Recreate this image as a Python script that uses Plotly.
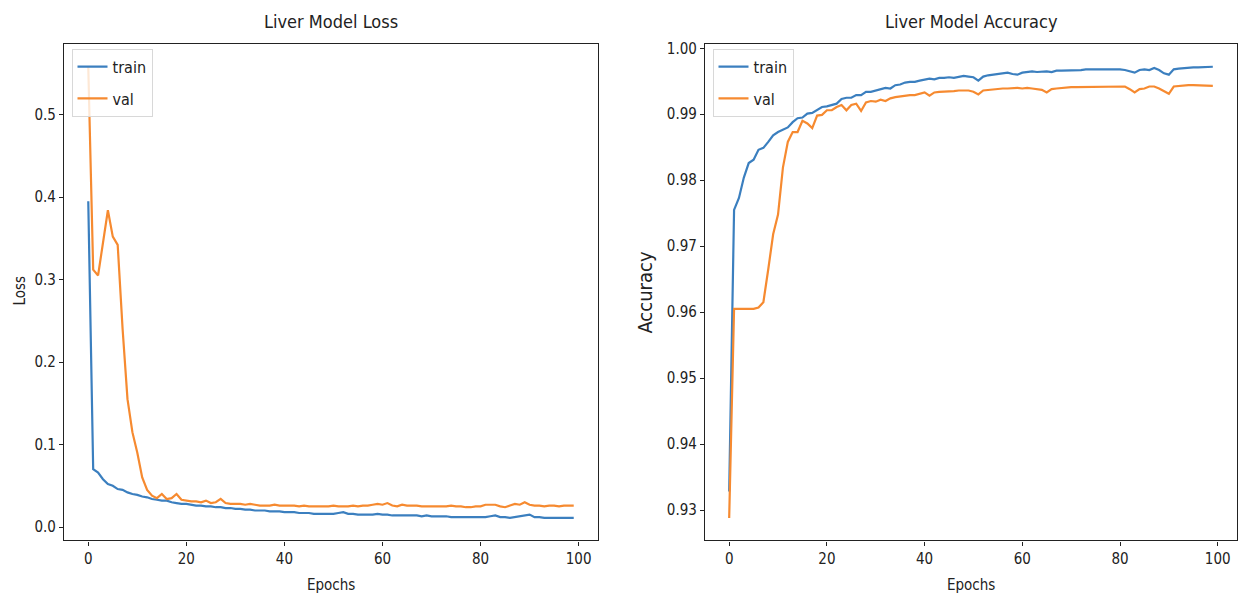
import plotly.graph_objects as go

epochs = list(range(100))

loss_train = [0.395, 0.070, 0.066, 0.058, 0.052, 0.050, 0.046, 0.045, 0.042, 0.040,
              0.039, 0.037, 0.036, 0.034, 0.033, 0.032, 0.032, 0.030, 0.029, 0.028,
              0.028, 0.027, 0.026, 0.026, 0.025, 0.025, 0.024, 0.024, 0.023, 0.023,
              0.022, 0.022, 0.021, 0.021, 0.020, 0.020, 0.020, 0.019, 0.019, 0.019,
              0.018, 0.018, 0.018, 0.017, 0.017, 0.017, 0.016, 0.016, 0.016, 0.016,
              0.016, 0.017, 0.018, 0.016, 0.016, 0.015, 0.015, 0.015, 0.015, 0.016,
              0.015, 0.015, 0.014, 0.014, 0.014, 0.014, 0.014, 0.014, 0.013, 0.014,
              0.013, 0.013, 0.013, 0.013, 0.012, 0.012, 0.012, 0.012, 0.012, 0.012,
              0.012, 0.012, 0.013, 0.014, 0.012, 0.012, 0.011, 0.012, 0.013, 0.014,
              0.015, 0.012, 0.012, 0.011, 0.011, 0.011, 0.011, 0.011, 0.011, 0.011]

loss_val = [0.558, 0.312, 0.305, 0.345, 0.384, 0.352, 0.342, 0.240, 0.155, 0.115,
            0.090, 0.060, 0.045, 0.038, 0.035, 0.040, 0.034, 0.035, 0.040, 0.033,
            0.032, 0.031, 0.031, 0.030, 0.032, 0.029, 0.030, 0.034, 0.029, 0.028,
            0.028, 0.028, 0.027, 0.028, 0.027, 0.026, 0.026, 0.026, 0.027, 0.026,
            0.026, 0.026, 0.026, 0.025, 0.026, 0.025, 0.025, 0.025, 0.025, 0.025,
            0.026, 0.025, 0.025, 0.025, 0.026, 0.025, 0.026, 0.026, 0.027, 0.028,
            0.027, 0.029, 0.026, 0.025, 0.027, 0.026, 0.026, 0.026, 0.025, 0.025,
            0.025, 0.025, 0.025, 0.025, 0.026, 0.025, 0.025, 0.024, 0.024, 0.025,
            0.025, 0.027, 0.027, 0.027, 0.025, 0.024, 0.026, 0.028, 0.027, 0.030,
            0.027, 0.026, 0.026, 0.025, 0.026, 0.026, 0.025, 0.026, 0.026, 0.026]

acc_train = [0.9328, 0.9755, 0.9773, 0.9804, 0.9826, 0.9831, 0.9846, 0.9849, 0.9858, 0.9868,
             0.9873, 0.9876, 0.9880, 0.9888, 0.9894, 0.9895, 0.9901, 0.9902, 0.9906, 0.9911,
             0.9912, 0.9914, 0.9916, 0.9923, 0.9925, 0.9925, 0.9929, 0.9929, 0.9934, 0.9934,
             0.9936, 0.9939, 0.9940, 0.9939, 0.9944, 0.9945, 0.9948, 0.9949, 0.9949, 0.9951,
             0.9952, 0.9954, 0.9953, 0.9955, 0.9955, 0.9956, 0.9955, 0.9957, 0.9958, 0.9957,
             0.9956, 0.9951, 0.9957, 0.9959, 0.9960, 0.9962, 0.9962, 0.9963, 0.9961, 0.9960,
             0.9963, 0.9964, 0.9965, 0.9964, 0.9965, 0.9965, 0.9964, 0.9966, 0.9966, 0.9966,
             0.9967, 0.9967, 0.9967, 0.9968, 0.9968, 0.9969, 0.9969, 0.9969, 0.9969, 0.9969,
             0.9968, 0.9967, 0.9965, 0.9963, 0.9967, 0.9968, 0.9967, 0.9970, 0.9967, 0.9962,
             0.9960, 0.9968, 0.9969, 0.9970, 0.9970, 0.9971, 0.9971, 0.9971, 0.9972, 0.9972]

acc_val = [0.9288, 0.9605, 0.9605, 0.9605, 0.9605, 0.9605, 0.9607, 0.9615, 0.9665, 0.9718,
           0.9748, 0.9819, 0.9858, 0.9873, 0.9873, 0.9890, 0.9886, 0.9879, 0.9898, 0.9899,
           0.9906, 0.9906, 0.9911, 0.9914, 0.9906, 0.9914, 0.9916, 0.9905, 0.9918, 0.9920,
           0.9919, 0.9922, 0.9920, 0.9924, 0.9926, 0.9927, 0.9929, 0.9929, 0.9929, 0.9931,
           0.9933, 0.9928, 0.9933, 0.9934, 0.9934, 0.9934, 0.9935, 0.9936, 0.9936, 0.9936,
           0.9934, 0.9930, 0.9936, 0.9937, 0.9938, 0.9939, 0.9939, 0.9939, 0.9940, 0.9940,
           0.9939, 0.9940, 0.9939, 0.9938, 0.9937, 0.9933, 0.9938, 0.9939, 0.9940, 0.9941,
           0.9941, 0.9941, 0.9941, 0.9942, 0.9942, 0.9941, 0.9941, 0.9942, 0.9942, 0.9942,
           0.9942, 0.9942, 0.9938, 0.9933, 0.9938, 0.9939, 0.9942, 0.9942, 0.9939, 0.9935,
           0.9931, 0.9942, 0.9943, 0.9943, 0.9944, 0.9944, 0.9944, 0.9944, 0.9944, 0.9943]

loss_ticks = [0.0, 0.1, 0.2, 0.3, 0.4, 0.5]
acc_ticks = [0.93, 0.94, 0.95, 0.96, 0.97, 0.98, 0.99, 1.00]
epoch_ticks = [0, 20, 40, 60, 80, 100]

BLUE = "#3b7fbf"
ORANGE = "#f68a30"
FONT = "DejaVu Sans Condensed, DejaVu Sans, sans-serif"
W, H = 1238, 599


def mpl_range(*series):
    lo = min(min(s) for s in series)
    hi = max(max(s) for s in series)
    m = (hi - lo) * 0.05
    return [lo - m, hi + m]


fig = go.Figure()
fig.add_trace(go.Scatter(x=epochs, y=loss_train, name="train", mode="lines", legendgroup="a",
                         line=dict(color=BLUE, width=2.2), xaxis="x", yaxis="y", legend="legend"))
fig.add_trace(go.Scatter(x=epochs, y=loss_val, name="val", mode="lines", legendgroup="b",
                         line=dict(color=ORANGE, width=2.2), xaxis="x", yaxis="y", legend="legend"))
fig.add_trace(go.Scatter(x=epochs, y=acc_train, name="train", mode="lines", legendgroup="c",
                         line=dict(color=BLUE, width=2.2), xaxis="x2", yaxis="y2", legend="legend2"))
fig.add_trace(go.Scatter(x=epochs, y=acc_val, name="val", mode="lines", legendgroup="d",
                         line=dict(color=ORANGE, width=2.2), xaxis="x2", yaxis="y2", legend="legend2"))

axis_common = dict(showline=True, mirror=True, linecolor="#222", linewidth=1.2,
                   ticks="outside", ticklen=4, tickcolor="#222", showgrid=False,
                   zeroline=False, tickfont=dict(family=FONT, size=15, color="#222"))

ydom = [1 - 540 / H, 1 - 39.5 / H]
xr = mpl_range(epochs)

legend_common = dict(xanchor="left", yanchor="top", bordercolor="#d8d8d8", borderwidth=1,
                     bgcolor="rgba(255,255,255,0.8)", font=dict(family=FONT, size=16, color="#222"),
                     itemwidth=30, tracegroupgap=8)

fig.update_layout(
    width=W, height=H, margin=dict(l=0, r=0, t=0, b=0),
    paper_bgcolor="white", plot_bgcolor="white",
    font=dict(family=FONT, color="#222"),
    xaxis=dict(domain=[64 / W, 598 / W], range=xr, tickvals=epoch_ticks, anchor="y", **axis_common),
    yaxis=dict(domain=ydom, range=mpl_range(loss_train, loss_val), tickvals=loss_ticks,
               tickformat=".1f", anchor="x", **axis_common),
    xaxis2=dict(domain=[705 / W, 1237 / W], range=xr, tickvals=epoch_ticks, anchor="y2", **axis_common),
    yaxis2=dict(domain=ydom, range=mpl_range(acc_train, acc_val), tickvals=acc_ticks,
                tickformat=".2f", anchor="x2", **axis_common),
    legend=dict(x=71.5 / W, y=1 - 44 / H, **legend_common),
    legend2=dict(x=712.5 / W, y=1 - 44 / H, **legend_common),
    showlegend=True,
    annotations=[
        dict(text="Liver Model Loss", x=(64 + 598) / 2 / W, y=1 - 17 / H, xref="paper", yref="paper",
             showarrow=False, font=dict(family=FONT, size=18, color="#222"), xanchor="center", yanchor="middle"),
        dict(text="Liver Model Accuracy", x=(705 + 1237) / 2 / W, y=1 - 17 / H, xref="paper", yref="paper",
             showarrow=False, font=dict(family=FONT, size=18, color="#222"), xanchor="center", yanchor="middle"),
        dict(text="Epochs", x=(64 + 598) / 2 / W, y=1 - 585 / H, xref="paper", yref="paper",
             showarrow=False, font=dict(family=FONT, size=15, color="#222"), xanchor="center", yanchor="middle"),
        dict(text="Epochs", x=(705 + 1237) / 2 / W, y=1 - 585 / H, xref="paper", yref="paper",
             showarrow=False, font=dict(family=FONT, size=15, color="#222"), xanchor="center", yanchor="middle"),
        dict(text="Loss", x=20 / W, y=1 - 288 / H, xref="paper", yref="paper", textangle=-90,
             showarrow=False, font=dict(family=FONT, size=15, color="#222"), xanchor="center", yanchor="middle"),
        dict(text="Accuracy", x=645 / W, y=1 - 290 / H, xref="paper", yref="paper", textangle=-90,
             showarrow=False, font=dict(family=FONT, size=20, color="#222"), xanchor="center", yanchor="middle"),
    ],
)

fig.write_html("out.html")
